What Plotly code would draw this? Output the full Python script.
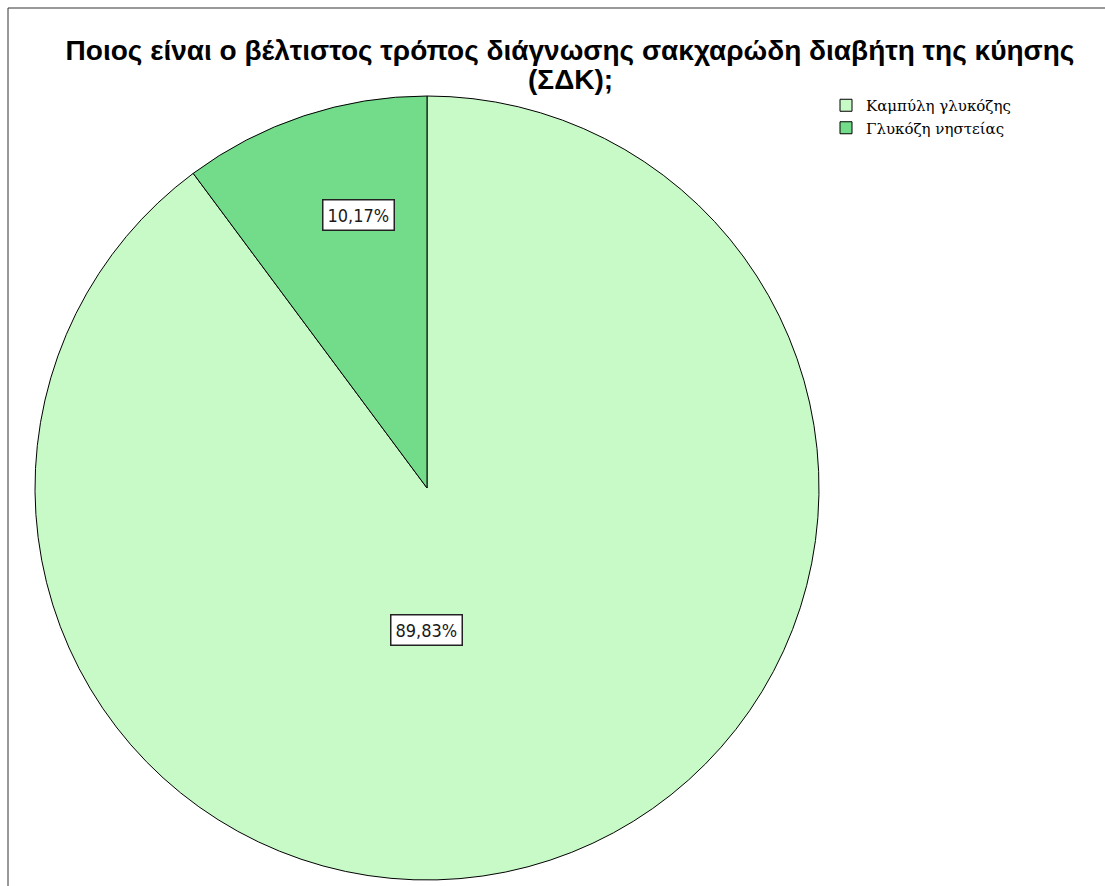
import math
import plotly.graph_objects as go

# ---- data ----
categories = ["Καμπύλη γλυκόζης", "Γλυκόζη νηστείας"]
percentages = [89.83, 10.17]
value_labels = ["89,83%", "10,17%"]
colors = ["#c8fac8", "#72dc8a"]
title_line1 = "Ποιος είναι ο βέλτιστος τρόπος διάγνωσης σακχαρώδη διαβήτη της κύησης"
title_line2 = "(ΣΔΚ);"

W, H = 1105, 886
cx, cy, r = 427, 488, 392  # pie centre / radius in px
dom_x = [(cx - r) / W, (cx + r) / W]
dom_y = [1 - (cy + r) / H, 1 - (cy - r) / H]

fig = go.Figure()
fig.add_trace(go.Pie(
    labels=categories,
    values=percentages,
    sort=False,
    direction="clockwise",
    rotation=0,
    marker=dict(colors=colors, line=dict(color="#000000", width=1)),
    textinfo="none",
    hoverinfo="label+percent",
    domain=dict(x=dom_x, y=dom_y),
))

# value labels in boxes, placed relative to each slice's mid-angle
label_angle_shift = [18.5, 4.3]   # degrees, style tweak
label_radius_frac = [0.362, 0.717]
annotations = []
start = 0.0
total = sum(percentages)
for v, lab, sh, rf in zip(percentages, value_labels, label_angle_shift, label_radius_frac):
    span = v / total * 360
    mid = math.radians(start + span / 2 + sh)
    start += span
    px = cx + rf * r * math.sin(mid)
    py = cy - rf * r * math.cos(mid)
    annotations.append(dict(
        x=px / W, y=1 - py / H, xref="paper", yref="paper",
        xanchor="center", yanchor="middle",
        text=lab, showarrow=False,
        font=dict(family="DejaVu Sans Condensed, DejaVu Sans", size=18, color="#1a1a1a"),
        bgcolor="#ffffff", bordercolor="#222222", borderwidth=1.5, borderpad=4,
    ))

annotations.append(dict(
    x=570 / W, y=1 - 80 / H, xref="paper", yref="paper",
    xanchor="center", yanchor="middle", showarrow=False,
    text=title_line2,
    font=dict(family="Liberation Sans", size=28, color="#000000", weight="bold"),
))

fig.update_layout(
    width=W, height=H,
    margin=dict(l=0, r=0, t=0, b=0, autoexpand=False),
    paper_bgcolor="#ffffff",
    title=dict(
        text=title_line1,
        x=570 / W, xanchor="center", xref="container",
        y=1 - 50 / H, yanchor="middle", yref="container",
        font=dict(family="Liberation Sans", size=28, color="#000000", weight="bold"),
    ),
    legend=dict(
        x=826 / W, y=1 - 89 / H, xanchor="left", yanchor="top",
        font=dict(family="DejaVu Serif", size=15, color="#000000"),
        bgcolor="rgba(0,0,0,0)", itemwidth=30, tracegroupgap=0,
    ),
    annotations=annotations,
    shapes=[dict(
        type="rect", xref="paper", yref="paper",
        x0=8 / W, x1=1.2, y0=-0.2, y1=1 - 8 / H,
        line=dict(color="#333333", width=1),
    )],
)

fig.write_html("out.html")
